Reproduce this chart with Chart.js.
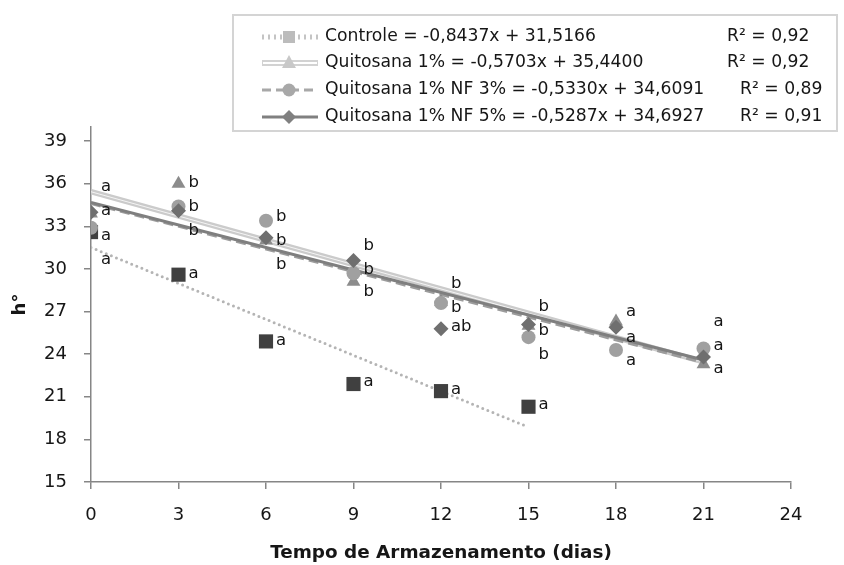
<!DOCTYPE html>
<html lang="pt">
<head>
    <meta charset="UTF-8">
    <title>h° x Tempo de Armazenamento</title>
    <script src="https://cdn.jsdelivr.net/npm/chart.js@4.4.0/dist/chart.umd.min.js"></script>
    <style>
        body { margin: 0; background: #fff; }
        #wrap { width: 844px; height: 565px; position: relative; }
    </style>
</head>
<body>
<div id="wrap"><canvas id="hueChart" width="844" height="565"></canvas></div>
<script>
    // dias de armazenamento
    const days = [0, 3, 6, 9, 12, 15, 18, 21];
    const controleDays = [0, 3, 6, 9, 12, 15];

    // valores de h°
    const controle = [32.6, 29.6, 24.9, 21.9, 21.4, 20.3];
    const quitosana1 = [33.9, 36.0, 32.0, 29.1, 27.7, 26.0, 26.3, 23.3];
    const quitosanaNF3 = [32.9, 34.4, 33.4, 29.7, 27.6, 25.2, 24.3, 24.4];
    const quitosanaNF5 = [34.0, 34.1, 32.2, 30.6, 25.8, 26.1, 25.9, 23.8];

    // linhas de tendencia (equacoes da legenda)
    const slopes = [-0.8437, -0.5703, -0.5330, -0.5287];
    const intercepts = [31.5166, 35.4400, 34.6091, 34.6927];
    const trendEnd = [15, 21, 21, 21];
    const equations = [
        'Controle = -0,8437x + 31,5166',
        'Quitosana 1% = -0,5703x + 35,4400',
        'Quitosana 1% NF 3% = -0,5330x + 34,6091',
        'Quitosana 1% NF 5% = -0,5287x + 34,6927'
    ];
    const r2Labels = ['R² = 0,92', 'R² = 0,92', 'R² = 0,89', 'R² = 0,91'];

    // letras do teste de medias, por dia (posicao em unidades de h°)
    const letterDays = [0, 0, 0, 0, 3, 3, 3, 3, 6, 6, 6, 6, 9, 9, 9, 9, 12, 12, 12, 12, 15, 15, 15, 15, 18, 18, 18, 21, 21, 21];
    const letterValues = [35.7, 34.0, 32.3, 30.55, 36.0, 34.35, 32.66, 29.6, 33.6, 31.9, 30.2, 24.9,
        31.6, 29.9, 28.3, 22.0, 28.9, 27.2, 25.9, 21.4, 27.3, 25.55, 23.9, 20.35, 26.9, 25.1, 23.5, 26.2, 24.5, 22.9];
    const letterTexts = ['a', 'a', 'a', 'a', 'b', 'b', 'b', 'a', 'b', 'b', 'b', 'a',
        'b', 'b', 'b', 'a', 'b', 'b', 'ab', 'a', 'b', 'b', 'b', 'a', 'a', 'a', 'a', 'a', 'a', 'a'];

    const yTicks = [15, 18, 21, 24, 27, 30, 33, 36, 39];

    const FONT = "'DejaVu Sans', 'Open Sans', sans-serif";
    const TEXT = '#161616';
    const axisGray = '#868686';

    function pts(xs, ys) { return xs.map((x, i) => ({ x: x, y: ys[i] })); }
    function trend(i) {
        return [{ x: 0, y: intercepts[i] }, { x: trendEnd[i], y: intercepts[i] + slopes[i] * trendEnd[i] }];
    }

    const markerStyles = [
        { color: '#404040', style: 'rect', radius: 10 },
        { color: '#8c8c8c', style: 'triangle', radius: 8 },
        { color: '#a0a0a0', style: 'circle', radius: 7 },
        { color: '#6f6f6f', style: 'rectRot', radius: 7.5 }
    ];

    const trendLine = (data, color, width, dash, order) => ({
        type: 'line', data: data, borderColor: color, borderWidth: width, borderDash: dash,
        borderCapStyle: dash.length && dash[0] === 0 ? 'round' : 'butt',
        pointRadius: 0, fill: false, tension: 0, order: order
    });
    const markers = (data, i, order) => ({
        type: 'scatter', data: data, showLine: false,
        pointStyle: markerStyles[i].style, pointRadius: markerStyles[i].radius,
        pointBackgroundColor: markerStyles[i].color, pointBorderColor: markerStyles[i].color,
        pointBorderWidth: 0, order: order
    });

    // letras ao lado dos pontos
    const letterPlugin = {
        id: 'letters',
        afterDatasetsDraw(chart) {
            const { ctx, scales } = chart;
            ctx.save();
            ctx.font = '16.5px ' + FONT;
            ctx.fillStyle = TEXT;
            ctx.textAlign = 'left';
            ctx.textBaseline = 'middle';
            letterTexts.forEach((t, i) => {
                ctx.fillText(t, scales.x.getPixelForValue(letterDays[i]) + 10, scales.y.getPixelForValue(letterValues[i]) - 1);
            });
            ctx.restore();
        }
    };

    // legenda com equacoes
    const legendPlugin = {
        id: 'eqLegend',
        afterDraw(chart) {
            const ctx = chart.ctx;
            ctx.save();
            ctx.strokeStyle = '#d4d4d4';
            ctx.lineWidth = 2;
            ctx.strokeRect(233, 15, 604, 116);
            const rowsY = [37, 63, 90, 117];
            const legendColors = ['#bcbcbc', '#c8c8c8', '#a8a8a8', '#808080'];
            const x0 = 262, x1 = 318, xm = 289;
            rowsY.forEach((y, i) => {
                ctx.save();
                ctx.beginPath();
                if (i === 0) {
                    ctx.strokeStyle = '#c4c4c4'; ctx.lineWidth = 5; ctx.setLineDash([2, 4]);
                } else if (i === 1) {
                    ctx.strokeStyle = '#d2d2d2'; ctx.lineWidth = 6;
                } else if (i === 2) {
                    ctx.strokeStyle = '#a8a8a8'; ctx.lineWidth = 3; ctx.setLineDash([9, 5]);
                } else {
                    ctx.strokeStyle = '#808080'; ctx.lineWidth = 3;
                }
                ctx.moveTo(x0, y); ctx.lineTo(x1, y); ctx.stroke();
                if (i === 1) {
                    ctx.strokeStyle = '#fff'; ctx.lineWidth = 2;
                    ctx.beginPath(); ctx.moveTo(x0 + 1, y); ctx.lineTo(x1 - 1, y); ctx.stroke();
                }
                ctx.restore();
                ctx.fillStyle = legendColors[i];
                ctx.beginPath();
                if (i === 0) ctx.rect(xm - 6, y - 6, 12, 12);
                else if (i === 1) { ctx.moveTo(xm, y - 8); ctx.lineTo(xm + 7, y + 5); ctx.lineTo(xm - 7, y + 5); ctx.closePath(); }
                else if (i === 2) ctx.arc(xm, y, 6.5, 0, Math.PI * 2);
                else { ctx.moveTo(xm, y - 7); ctx.lineTo(xm + 7, y); ctx.lineTo(xm, y + 7); ctx.lineTo(xm - 7, y); ctx.closePath(); }
                ctx.fill();
                ctx.fillStyle = TEXT;
                ctx.font = '17.2px ' + FONT;
                ctx.textBaseline = 'middle';
                ctx.textAlign = 'left';
                ctx.fillText(equations[i], 325, y);
                ctx.fillText(r2Labels[i], i < 2 ? 727 : 740, y);
            });
            ctx.restore();
        }
    };

    const ctx = document.getElementById('hueChart').getContext('2d');
    new Chart(ctx, {
        data: {
            datasets: [
                trendLine(trend(0), '#b4b4b4', 3, [0, 5.5], 9),
                trendLine(trend(1), '#cbcbcb', 5.5, [], 8),
                trendLine(trend(1), '#f4f4f4', 1, [], 7),
                trendLine(trend(2), '#9c9c9c', 3, [10, 5], 6),
                trendLine(trend(3), '#7f7f7f', 3, [], 5),
                markers(pts(controleDays, controle), 0, 4),
                markers(pts(days, quitosana1), 1, 3),
                markers(pts(days, quitosanaNF3), 2, 2),
                markers(pts(days, quitosanaNF5), 3, 1)
            ]
        },
        options: {
            responsive: false,
            animation: false,
            layout: { padding: { left: 0, top: 127, right: 53, bottom: 0 } },
            plugins: { legend: { display: false }, tooltip: { enabled: false } },
            scales: {
                x: {
                    type: 'linear', min: 0, max: 24,
                    ticks: { stepSize: 3, color: TEXT, font: { family: FONT, size: 18 }, padding: 16, maxRotation: 0 },
                    grid: { drawOnChartArea: false, drawTicks: true, tickLength: 7, color: axisGray, lineWidth: 1.5 },
                    border: { color: axisGray, width: 1.5 },
                    title: { display: true, text: 'Tempo de Armazenamento (dias)', color: TEXT,
                        font: { family: FONT, size: 18.4, weight: 'bold' }, padding: { top: 0, bottom: 1 } },
                    afterFit(scale) { scale.height = 83; }
                },
                y: {
                    type: 'linear', min: 15, max: 40,
                    afterBuildTicks(scale) { scale.ticks = yTicks.map(v => ({ value: v })); },
                    ticks: { color: TEXT, font: { family: FONT, size: 18 }, padding: 17 },
                    grid: { drawOnChartArea: false, drawTicks: true, tickLength: 7, color: axisGray, lineWidth: 1.5 },
                    border: { color: axisGray, width: 1.5 },
                    title: { display: true, text: 'h°', color: TEXT,
                        font: { family: FONT, size: 18, weight: 'bold' }, padding: { top: 10, bottom: 0 } },
                    afterFit(scale) { scale.width = 91; }
                }
            }
        },
        plugins: [letterPlugin, legendPlugin]
    });
</script>
</body>
</html>
